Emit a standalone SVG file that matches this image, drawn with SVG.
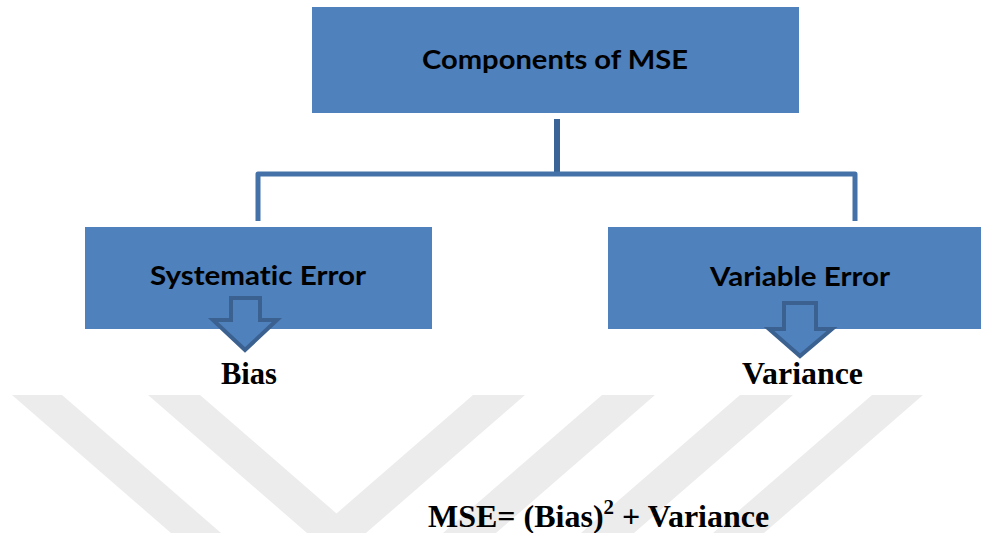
<svg xmlns="http://www.w3.org/2000/svg" width="981" height="533" viewBox="0 0 981 533">
  <style>
    .box { fill: #4f81bd; }
    .lbl { font-family: Lato, "Open Sans", "Liberation Sans", sans-serif; font-weight: bold; font-size: 27px; fill: #000; font-variant-ligatures: none; }
    .out { font-family: "Liberation Serif", "Times New Roman", serif; font-weight: bold; font-size: 31px; fill: #000; }
    .link { fill: none; stroke: #4472a8; stroke-width: 5; stroke-linejoin: round; }
    .stub { fill: none; stroke: #3a6496; stroke-width: 6; }
    .arrow { fill: #4f81bd; stroke: #3b6190; stroke-width: 4; stroke-linejoin: miter; }
    .wm { fill: #ececec; }
  </style>

  <rect width="981" height="533" fill="#ffffff"/>

  <!-- background watermark stripes -->
  <g id="watermark">
    <polygon class="wm" points="12,395 62,395 221,533 171,533"/>
    <polygon class="wm" points="148,395 200,395 359,533 307,533"/>
    <polygon class="wm" points="473,395 525,395 366,533 314,533"/>
    <polygon class="wm" points="602,395 655,395 496,533 443,533"/>
    <polygon class="wm" points="740,395 793,395 634,533 581,533"/>
    <polygon class="wm" points="872,395 923,395 764,533 713,533"/>
  </g>

  <!-- tree connectors -->
  <g id="connectors">
    <line class="stub" x1="557" y1="119" x2="557" y2="175"/>
    <polyline class="link" points="258,221 258,174 855,174 855,221"/>
  </g>

  <g id="root">
    <rect class="box" x="312" y="7" width="487" height="106"/>
    <text class="lbl" x="555" y="69" text-anchor="middle" textLength="266" lengthAdjust="spacingAndGlyphs">Components of MSE</text>
  </g>

  <g id="systematic">
    <rect class="box" x="85" y="227" width="347" height="102"/>
    <text class="lbl" x="258" y="285" text-anchor="middle" textLength="216" lengthAdjust="spacingAndGlyphs">Systematic Error</text>
    <path class="arrow" d="M231,298 H260 V320 H277 L245,350 L213,320 H231 Z"/>
  </g>

  <g id="variable">
    <rect class="box" x="608" y="227" width="380" height="102"/>
    <text class="lbl" x="800" y="286" text-anchor="middle" textLength="180" lengthAdjust="spacingAndGlyphs">Variable Error</text>
    <path class="arrow" d="M784,303 H816 V329 H832 L800,356 L769,329 H784 Z"/>
  </g>

  <g id="bias">
    <text class="out" x="221" y="384" textLength="56" lengthAdjust="spacingAndGlyphs">Bias</text>
  </g>

  <g id="variance">
    <text class="out" x="742" y="384" textLength="121" lengthAdjust="spacingAndGlyphs">Variance</text>
  </g>

  <g id="formula">
    <text class="out" x="428" y="527" style="font-size:32px">MSE= (Bias)<tspan dy="-13" style="font-size:21px">2</tspan><tspan dy="13"> + Variance</tspan></text>
  </g>
</svg>
